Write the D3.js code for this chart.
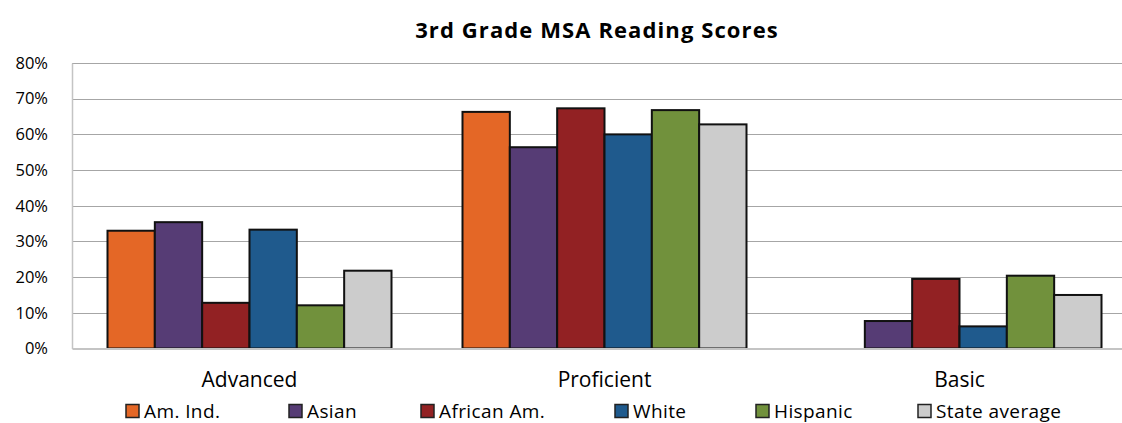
<!DOCTYPE html>
<html>
<head>
<meta charset="utf-8">
<script src="https://cdn.jsdelivr.net/npm/d3@7"></script>
<style>
  body { margin: 0; background: #fff; }
  svg { display: block; font-family: "Open Sans", sans-serif; }
</style>
</head>
<body>
<div id="canvas"></div>
<script>
"use strict"

/* data */
let categories = ["Advanced", "Proficient", "Basic"]
let groups = ["Am. Ind.", "Asian", "African Am.", "White", "Hispanic", "State average"]
let amInd = [0.330, 0.663, 0]
let asian = [0.354, 0.564, 0.077]
let africanAm = [0.128, 0.673, 0.195]
let white = [0.333, 0.600, 0.062]
let hispanic = [0.121, 0.668, 0.204]
let stateAvg = [0.218, 0.628, 0.150]
let yTicks = [0, 0.1, 0.2, 0.3, 0.4, 0.5, 0.6, 0.7, 0.8]

let seriesValues = [amInd, asian, africanAm, white, hispanic, stateAvg]
let colours = ["#e46726", "#563c75", "#922123", "#1f5a8d", "#71913c", "#cccccc"]

let width = 1122
let height = 423
let plotLeft = 72
let plotRight = 1137   /* the plot runs past the right edge of the picture */
let plotTop = 63
let plotBottom = 348.5

let drawing = d3.select("#canvas")
    .append("svg")
    .attr("width", width)
    .attr("height", height)

/* one band per category, bars fill the middle 80% of it */
let x0 = d3.scaleBand()
    .domain(categories)
    .range([plotLeft, plotRight])
let groupW = x0.bandwidth()
let x1 = d3.scaleBand()
    .domain(groups)
    .range([groupW * 0.1, groupW * 0.9])

let y = d3.scaleLinear()
    .domain([0, 0.8])
    .range([plotBottom, plotTop])

/* gridlines */
drawing.append("g")
    .selectAll("line")
    .data(yTicks.slice(1))
    .join("line")
    .attr("x1", plotLeft)
    .attr("x2", plotRight)
    .attr("y1", d => Math.round(y(d)) + 0.5)
    .attr("y2", d => Math.round(y(d)) + 0.5)
    .attr("stroke", "#a6a6a6")
    .attr("stroke-width", 1)

/* y axis */
let yAxis = drawing.append("g")
    .attr("transform", `translate(${plotLeft},0)`)
    .call(d3.axisLeft(y).tickValues(yTicks).tickFormat(d3.format(".0%")).tickSize(0).tickPadding(24))
yAxis.select(".domain").attr("stroke", "#c4c4c4").attr("stroke-width", 1.5)
yAxis.selectAll("text")
    .attr("font-size", 16.5)
    .attr("font-family", "'Open Sans', sans-serif")
    .attr("fill", "#000")

/* bars */
let groupG = drawing.append("g")
    .selectAll("g")
    .data(categories)
    .join("g")
    .attr("transform", d => `translate(${x0(d)},0)`)

groupG.selectAll("rect")
    .data((c, ci) => groups.map((g, gi) => ({ g: g, v: seriesValues[gi][ci], col: colours[gi] })).filter(d => d.v > 0))
    .join("rect")
    .attr("x", d => x1(d.g))
    .attr("y", d => y(d.v))
    .attr("width", x1.bandwidth())
    .attr("height", d => plotBottom - y(d.v))
    .attr("fill", d => d.col)
    .attr("stroke", "#111")
    .attr("stroke-width", 2)

/* x axis baseline and labels */
let xAxis = drawing.append("g")
    .attr("transform", `translate(0,${plotBottom})`)
    .call(d3.axisBottom(x0).tickSize(0).tickPadding(0))
xAxis.select(".domain").attr("stroke", "#c4c4c4").attr("stroke-width", 2)
xAxis.selectAll("text")
    .attr("dy", null)
    .attr("y", 38.5)
    .attr("font-size", 21)
    .attr("font-family", "'Open Sans', sans-serif")
    .attr("fill", "#000")

/* title */
drawing.append("text")
    .attr("x", 597)
    .attr("y", 38)
    .attr("text-anchor", "middle")
    .attr("font-size", 22)
    .attr("font-weight", "bold")
    .attr("letter-spacing", 1.1)
    .text("3rd Grade MSA Reading Scores")

/* legend, entries spaced like the original */
let legendX = [126, 289, 421, 615, 756, 918]
let legend = drawing.append("g")
    .selectAll("g")
    .data(groups)
    .join("g")
    .attr("transform", (d, i) => `translate(${legendX[i]},404.5)`)

legend.append("rect")
    .attr("width", 13)
    .attr("height", 13)
    .attr("fill", (d, i) => colours[i])
    .attr("stroke", "#222")
    .attr("stroke-width", 1.5)

legend.append("text")
    .attr("x", 18)
    .attr("y", 13)
    .attr("font-size", 19)
    .attr("letter-spacing", 0.4)
    .text(d => d)
</script>
</body>
</html>
